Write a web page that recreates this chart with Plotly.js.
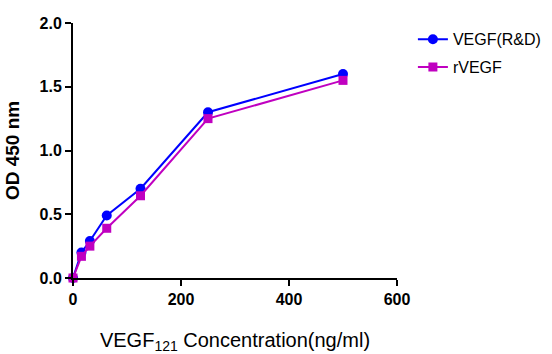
<!DOCTYPE html>
<html>
<head>
<meta charset="utf-8">
<script src="https://cdn.plot.ly/plotly-3.0.1.min.js"></script>
<style>html,body{margin:0;padding:0;background:#fff;}#chart{width:552px;height:354px;}</style>
</head>
<body>
<div id="chart"></div>
<script>
const concentrations = [0, 15.625, 31.25, 62.5, 125, 250, 500];
const vegfRD = [0.0, 0.20, 0.29, 0.49, 0.70, 1.30, 1.60];
const rVEGF = [0.0, 0.17, 0.25, 0.39, 0.645, 1.25, 1.55];
const seriesNames = ['VEGF(R&D)', 'rVEGF'];
const xTicks = [0, 200, 400, 600];
const yTicks = [0, 0.5, 1.0, 1.5, 2.0];

const font = 'Liberation Sans, Arial, sans-serif';
const traces = [
  {x: concentrations, y: vegfRD, name: seriesNames[0], legendgroup: 'a', mode: 'lines+markers', cliponaxis: false,
   line: {color: '#0000FF', width: 2}, marker: {symbol: 'circle', size: 10, color: '#0000FF'}},
  {x: concentrations, y: rVEGF, name: seriesNames[1], legendgroup: 'b', mode: 'lines+markers', cliponaxis: false,
   line: {color: '#C000C0', width: 2}, marker: {symbol: 'square', size: 9, color: '#C000C0'}}
];
const layout = {
  width: 552, height: 354,
  margin: {l: 73, r: 155, t: 23, b: 76},
  paper_bgcolor: '#fff', plot_bgcolor: '#fff',
  font: {family: font, color: '#000'},
  showlegend: true,
  legend: {xref: 'container', yref: 'container', x: 0.748, y: 0.937, xanchor: 'left', yanchor: 'top',
           font: {size: 16, family: font}, bgcolor: 'rgba(0,0,0,0)', tracegroupgap: 4},
  xaxis: {
    range: [0, 600], tickvals: xTicks, ticktext: xTicks.map(String),
    showline: true, linecolor: '#000', linewidth: 2, showgrid: false, zeroline: false,
    ticks: 'outside', ticklen: 6, tickwidth: 2, tickcolor: '#000',
    tickfont: {size: 16, family: font, weight: 'bold'},
    title: {text: 'VEGF<sub>121</sub> Concentration(ng/ml)', font: {size: 20, family: font}, standoff: 35},
    automargin: false
  },
  yaxis: {
    range: [0, 2], tickvals: yTicks, ticktext: yTicks.map(v => v.toFixed(1)),
    showline: true, linecolor: '#000', linewidth: 2, showgrid: false, zeroline: false,
    ticks: 'outside', ticklen: 6, tickwidth: 2, tickcolor: '#000',
    tickfont: {size: 16, family: font, weight: 'bold'},
    title: {text: 'OD 450 nm', font: {size: 19, family: font, weight: 'bold'}, standoff: 15},
    automargin: false
  }
};
Plotly.newPlot('chart', traces, layout, {displayModeBar: false, staticPlot: true});
</script>
</body>
</html>
